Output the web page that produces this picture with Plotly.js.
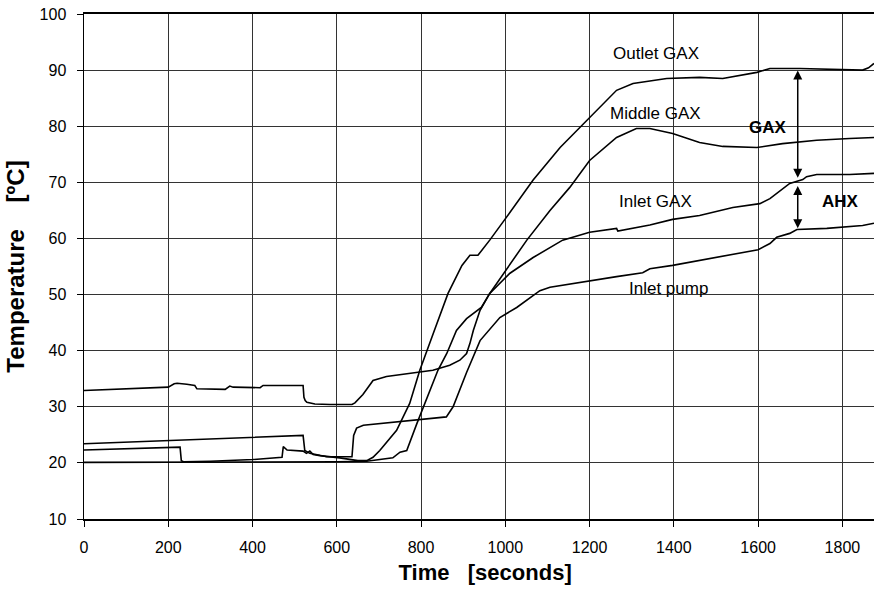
<!DOCTYPE html>
<html>
<head>
<meta charset="utf-8">
<script src="https://cdn.plot.ly/plotly-3.0.1.min.js"></script>
<style>
  html, body { margin: 0; padding: 0; background: #fff; }
  #chart { width: 874px; height: 595px; }
</style>
</head>
<body>
<div id="chart"></div>
<script>
// Outlet GAX temperature [ºC] vs time [s]
const tOutlet = [0, 228, 231, 236, 300, 401, 470, 473, 482, 520, 528, 536, 544, 560, 607, 650, 671, 686, 702, 720, 742, 773, 797, 830, 864, 897, 916, 935, 963, 999, 1066, 1130, 1200, 1264, 1303, 1383, 1461, 1516, 1597, 1628, 1699, 1777, 1848, 1862, 1875];
const TOutlet = [22.3, 22.8, 20.4, 20.2, 20.3, 20.6, 21.0, 22.9, 22.3, 22.1, 21.7, 22.1, 21.5, 21.3, 20.9, 20.4, 20.4, 21.0, 22.2, 23.8, 25.8, 30.6, 36.5, 43.3, 50.2, 55.2, 57.0, 57.0, 59.7, 63.4, 70.4, 76.2, 81.6, 86.4, 87.6, 88.5, 88.7, 88.5, 89.6, 90.3, 90.3, 90.1, 90.0, 90.4, 91.2];

// Middle GAX
const tMiddle = [0, 200, 214, 221, 244, 263, 268, 335, 346, 354, 418, 425, 520, 522, 525, 529, 548, 584, 636, 643, 662, 686, 718, 797, 828, 868, 892, 908, 916, 924, 940, 963, 994, 1051, 1106, 1153, 1200, 1264, 1311, 1343, 1397, 1461, 1516, 1597, 1658, 1739, 1817, 1875];
const TMiddle = [32.9, 33.5, 34.1, 34.2, 34.0, 33.8, 33.2, 33.1, 33.7, 33.5, 33.4, 33.8, 33.8, 31.7, 31.1, 30.8, 30.5, 30.4, 30.4, 30.7, 32.2, 34.7, 35.4, 36.1, 36.5, 37.4, 38.3, 39.5, 41.3, 43.6, 47.2, 50.2, 53.5, 59.7, 65.0, 69.1, 73.9, 78.0, 79.6, 79.6, 78.7, 77.1, 76.4, 76.2, 76.9, 77.5, 77.8, 78.0];

// Inlet GAX
const tInlet = [0, 300, 500, 600, 671, 702, 733, 750, 766, 790, 814, 840, 861, 884, 908, 943, 963, 1011, 1066, 1106, 1136, 1200, 1264, 1267, 1343, 1397, 1461, 1540, 1604, 1628, 1651, 1675, 1706, 1715, 1739, 1817, 1875];
const TInlet = [20.1, 20.1, 20.1, 20.2, 20.3, 20.6, 20.9, 21.9, 22.2, 27.0, 31.7, 36.5, 39.5, 43.6, 45.7, 47.7, 50.2, 53.8, 56.6, 58.4, 59.7, 61.1, 61.8, 61.3, 62.4, 63.4, 64.1, 65.5, 66.2, 67.1, 68.5, 69.8, 70.5, 71.0, 71.4, 71.4, 71.6];

// Inlet pump
const tPump = [0, 520, 524, 536, 576, 636, 640, 647, 663, 742, 797, 860, 876, 900, 908, 940, 987, 1027, 1082, 1106, 1184, 1264, 1326, 1343, 1397, 1461, 1540, 1600, 1628, 1644, 1675, 1692, 1763, 1848, 1875];
const TPump = [23.4, 24.9, 22.2, 21.7, 21.1, 21.1, 24.9, 26.2, 26.7, 27.3, 27.6, 28.2, 30.0, 34.7, 36.1, 41.8, 45.9, 47.7, 50.7, 51.3, 52.3, 53.2, 53.9, 54.6, 55.2, 56.1, 57.2, 58.0, 59.1, 60.2, 60.9, 61.6, 61.8, 62.3, 62.7];

// Curve labels
const labelText = ['Outlet GAX', 'Middle GAX', 'Inlet GAX', 'Inlet pump'];
const labelT = [1357, 1357, 1357, 1388];
const labelY = [93.0, 82.3, 66.5, 51.1];

const FONT = 'Liberation Sans, Arial, Helvetica, sans-serif';

const lineStyle = { color: '#000', width: 1.6 };
const traces = [
  { x: tOutlet, y: TOutlet, name: 'Outlet GAX' },
  { x: tMiddle, y: TMiddle, name: 'Middle GAX' },
  { x: tInlet, y: TInlet, name: 'Inlet GAX' },
  { x: tPump, y: TPump, name: 'Inlet pump' }
].map(s => Object.assign(s, { type: 'scatter', mode: 'lines', line: lineStyle, hoverinfo: 'skip' }));

const annotations = labelText.map((txt, i) => ({
  x: labelT[i], y: labelY[i], xref: 'x', yref: 'y', text: txt, showarrow: false,
  font: { family: FONT, size: 17, color: '#000' }
}));

// Temperature-lift markers at t = 1694 s
const arrowT = 1694;
function dblArrow(yTop, yBot) {
  return {
    x: arrowT, y: yBot, ax: arrowT, ay: yTop, xref: 'x', yref: 'y', axref: 'x', ayref: 'y',
    text: '', showarrow: true, arrowside: 'end+start', arrowhead: 2, startarrowhead: 2,
    arrowsize: 1.2, startarrowsize: 1.2, arrowwidth: 1.5, arrowcolor: '#000', standoff: 0, startstandoff: 0
  };
}
annotations.push(dblArrow(90.2, 70.8));
annotations.push(dblArrow(69.6, 61.8));
annotations.push({ x: 1623, y: 79.8, xref: 'x', yref: 'y', text: '<b>GAX</b>', showarrow: false,
  font: { family: FONT, size: 17, color: '#000' } });
annotations.push({ x: 1795, y: 66.5, xref: 'x', yref: 'y', text: '<b>AHX</b>', showarrow: false,
  font: { family: FONT, size: 17, color: '#000' } });

const layout = {
  width: 874, height: 595,
  margin: { l: 84, r: 0, t: 14, b: 76 },
  paper_bgcolor: '#fff', plot_bgcolor: '#fff',
  showlegend: false,
  font: { family: FONT, color: '#000' },
  xaxis: {
    range: [0, 1875], tick0: 0, dtick: 200, ticks: 'outside', ticklen: 6, tickcolor: '#000', tickwidth: 1,
    showline: true, linecolor: '#000', linewidth: 2, mirror: true,
    showgrid: true, gridcolor: '#333', gridwidth: 1, zeroline: false,
    tickfont: { family: FONT, size: 16, color: '#000' }, ticklabelstandoff: 7,
    title: { text: '<b>&nbsp;&nbsp;Time&nbsp;&nbsp;&nbsp;[seconds]</b>', font: { family: FONT, size: 22, color: '#000' }, standoff: 9 }
  },
  yaxis: {
    range: [10, 100], tick0: 10, dtick: 10, ticks: 'outside', ticklen: 6, tickcolor: '#000', tickwidth: 1,
    showline: true, linecolor: '#000', linewidth: 1.5,
    showgrid: true, gridcolor: '#333', gridwidth: 1, zeroline: false,
    tickfont: { family: FONT, size: 16, color: '#000' }, ticklabelstandoff: 7,
    title: { text: '<b>Temperature&nbsp;&nbsp;&nbsp;&nbsp;[ºC]</b>', font: { family: FONT, size: 24, color: '#000' }, standoff: 8 }
  },
  annotations: annotations
};

Plotly.newPlot('chart', traces, layout, { displayModeBar: false, staticPlot: true });
</script>
</body>
</html>
